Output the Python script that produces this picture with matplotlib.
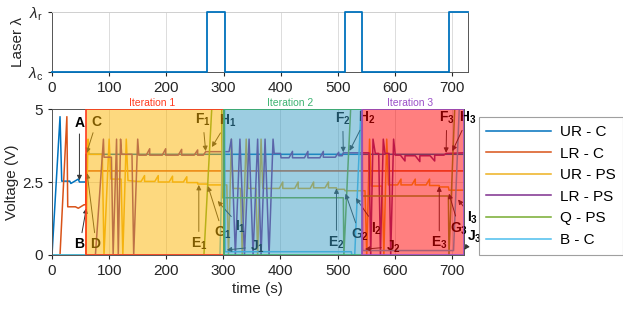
import numpy as np
import matplotlib
matplotlib.use("Agg")
import matplotlib.pyplot as plt
from matplotlib.patches import Rectangle

plt.rcParams['font.family'] = ['Liberation Sans', 'DejaVu Sans']
plt.rcParams['mathtext.fontset'] = 'custom'
plt.rcParams['mathtext.rm'] = 'Liberation Sans'
plt.rcParams['mathtext.it'] = 'Liberation Sans:italic'
plt.rcParams['mathtext.bf'] = 'Liberation Sans:bold'

# laser wavelength state (0 = lambda_c, 1 = lambda_r)
laser_t = [0, 271, 271, 302, 302, 512, 512, 543, 543, 694, 694, 728]
laser_v = [0, 0, 1, 1, 0, 0, 1, 1, 0, 0, 1, 1]

# voltage traces
urc_t = [0, 14, 17, 31, 33, 46, 48, 59, 59.5, 721]
urc_v = [0, 4.74, 2.53, 2.53, 2.45, 2.6, 2.5, 2.5, 3.45, 3.45]

lrc_t = [0, 14, 26, 27.5, 41, 46, 56, 59, 59.5, 721]
lrc_v = [0, 0, 4.74, 1.65, 1.65, 1.6, 1.72, 1.72, 2.88, 2.88]

urps_t = [0, 59, 63, 65, 88, 91, 100, 103, 121, 124, 130, 133, 150,
          156, 162, 162, 180, 186, 186, 205, 211, 211, 230, 236, 236, 255, 255, 272, 273,
          306, 309, 314, 317, 330, 333, 340, 343, 357, 360, 366, 369, 398, 404, 404,
          425, 431, 431, 452, 458, 458, 478, 484, 484, 498, 498, 512, 513,
          548, 551, 556, 559, 578, 581, 586, 589, 605, 611, 611, 630, 636, 636,
          655, 661, 661, 678, 678, 694, 695, 721]
urps_v = [0, 0, 3.97, 3.45, 3.45, 0, 3.97, 2.6, 2.6, 0, 3.97, 2.55, 2.52,
          2.52, 2.72, 2.52, 2.52, 2.72, 2.5, 2.5, 2.7, 2.5, 2.5, 2.68, 2.48, 2.48, 2.43, 2.43, 2.4,
          2.4, 0, 3.97, 2.28, 2.28, 0, 3.97, 2.28, 2.28, 0, 3.97, 2.28, 2.28, 2.5, 2.28,
          2.28, 2.5, 2.28, 2.28, 2.5, 2.3, 2.3, 2.5, 2.3, 2.3, 2.25, 2.25, 2.2,
          2.2, 0, 3.97, 2.36, 2.36, 0, 3.97, 2.4, 2.4, 2.6, 2.4, 2.4, 2.6, 2.4,
          2.4, 2.6, 2.38, 2.38, 2.33, 2.33, 2.22, 2.22]

lrps_t = [0, 59, 76, 90, 91, 104, 107, 113, 116, 120, 122, 140, 143, 150, 152,
          165, 171, 171, 193, 199, 199, 221, 227, 227, 249, 255, 255, 265, 269,
          310, 314, 321, 329, 337, 345, 352, 360, 366, 373, 380, 387, 389, 400, 401,
          415, 421, 421, 442, 448, 448, 469, 475, 475, 496, 502, 502, 508, 510,
          555, 558, 562, 566, 572, 575, 580, 583, 590, 593, 598, 601,
          610, 618, 618, 636, 644, 644, 662, 670, 670, 686, 690, 721]
lrps_v = [0, 0, 0, 3.97, 3.35, 3.35, 0, 3.97, 0, 3.97, 3.45, 3.45, 0, 3.97, 3.42,
          3.42, 3.64, 3.42, 3.42, 3.64, 3.42, 3.42, 3.62, 3.42, 3.42, 3.6, 3.42, 3.42, 3.54,
          3.54, 3.97, 0, 3.97, 0, 3.97, 0, 3.97, 0, 3.97, 0, 3.97, 3.48, 3.48, 3.33,
          3.33, 3.55, 3.33, 3.33, 3.55, 3.33, 3.33, 3.55, 3.35, 3.35, 3.52, 3.4, 3.4, 3.5,
          3.5, 0, 3.97, 3.48, 3.48, 0, 3.97, 3.48, 3.48, 0, 3.97, 3.42,
          3.42, 3.22, 3.4, 3.4, 3.2, 3.4, 3.4, 3.22, 3.42, 3.42, 3.48, 3.5]

qps_t = [0, 266, 281, 297, 298, 510, 511, 524, 541, 542, 694, 695, 706, 721]
qps_v = [0, 0, 5.5, 5.5, 1.96, 1.96, 0, 5.5, 5.5, 2.02, 2.02, 0, 5.5, 5.5]

bc_t = [0, 294, 301, 302, 303, 524, 525, 530, 542, 543, 544, 703, 714, 721]
bc_v = [0, 0, 5.5, 5.5, 0.11, 0.11, 0, 0, 5.5, 5.5, 0.15, 0.15, 5.5, 5.5]

series = [("UR - C", urc_t, urc_v, "#0072BD"),
          ("LR - C", lrc_t, lrc_v, "#D95319"),
          ("UR - PS", urps_t, urps_v, "#EDB120"),
          ("LR - PS", lrps_t, lrps_v, "#7E2F8E"),
          ("Q - PS", qps_t, qps_v, "#77AC30"),
          ("B - C", bc_t, bc_v, "#4DBEEE")]

# iterations: start, end, fill, edge
iter_names = ["Iteration 1", "Iteration 2", "Iteration 3"]
iter_start = [59, 301, 543]
iter_end = [301, 543, 721]
iter_fill = ["#FDB500", "#3A9CC4", "#FF0000"]
iter_edge = ["#FF3B1F", "#3CB371", "#9B4FC8"]

# labels: text, text position, arrow target
labels = [("A", (48, 4.53), (48, 2.56)),
          ("B", (49, 0.38), (60, 1.6)),
          ("C", (78, 4.57), (60.5, 3.49)),
          ("D", (77, 0.38), (61.5, 2.8)),
          ("E_1", (257, 0.38), (257, 2.4)),
          ("F_1", (264, 4.62), (269, 3.56)),
          ("G_1", (299, 0.75), (273, 2.36)),
          ("H_1", (308, 4.6), (280, 3.7)),
          ("I_1", (330, 0.95), (290, 1.85)),
          ("J_1", (359, 0.28), (306, 0.17)),
          ("E_2", (498, 0.42), (498, 2.28)),
          ("F_2", (509, 4.66), (510, 3.52)),
          ("G_2", (539, 0.68), (514, 2.1)),
          ("H_2", (550, 4.69), (521, 3.57)),
          ("I_2", (569, 0.91), (532, 1.95)),
          ("J_2", (597, 0.28), (548, 0.2)),
          ("E_3", (678, 0.4), (678, 2.35)),
          ("F_3", (691, 4.69), (690, 3.5)),
          ("G_3", (713, 0.91), (695, 2.1)),
          ("H_3", (728, 4.69), (701, 3.56)),
          ("I_3", (736, 1.26), (711, 1.9)),
          ("J_3", (739, 0.63), (722, 0.18))]

fig = plt.figure(figsize=(6.23, 3.09), dpi=100)

# laser panel
ax1 = fig.add_axes([0.0835, 0.767, 0.668, 0.194])
ax1.plot(laser_t, laser_v, color="#0072BD", lw=1.3, clip_on=False, zorder=5)
ax1.set_xlim(0, 728)
ax1.set_ylim(0, 1)
ax1.set_xticks(range(0, 701, 100))
ax1.set_yticks([0, 1])
ax1.set_yticklabels([r"$\lambda_\mathrm{c}$", r"$\lambda_\mathrm{r}$"], fontsize=12)
ax1.tick_params(labelsize=11, colors="#262626", length=3)
ax1.set_ylabel("Laser λ", fontsize=11, color="#262626", labelpad=2)
ax1.grid(True, axis="x", color="#dcdcdc", lw=0.7)
for s in ax1.spines.values():
    s.set_color("#555555")
    s.set_linewidth(0.7)
ax1.spines["top"].set_color("#cfcfcf")

# voltage panel
ax = fig.add_axes([0.0835, 0.175, 0.661, 0.472])
for name, t, v, c in series:
    ax.plot(t, v, color=c, lw=1.1, label=name, zorder=2)

for txt, tpos, target in labels:
    ax.annotate(r"$\mathbf{" + txt + "}$", xy=target, xytext=tpos,
                ha="center", va="center", fontsize=10, color="black",
                arrowprops=dict(arrowstyle="-|>", color="#333333", lw=0.7,
                                mutation_scale=7, shrinkA=1, shrinkB=0),
                annotation_clip=False, zorder=3)

for name, s0, s1, fc, ec in zip(iter_names, iter_start, iter_end, iter_fill, iter_edge):
    rgba = matplotlib.colors.to_rgba(fc, 0.5)
    ax.add_patch(Rectangle((s0, 0), s1 - s0, 5, facecolor=rgba,
                           edgecolor=ec, lw=1.2, zorder=4))
    ax.text((s0 + s1) / 2 - 5, 5.05, name, color=ec, fontsize=7.5,
            ha="center", va="bottom", zorder=5)

ax.set_xlim(0, 721)
ax.set_ylim(0, 5)
ax.set_xticks(range(0, 701, 100))
ax.set_yticks([0, 2.5, 5])
ax.set_yticklabels(["0", "2.5", "5"])
ax.tick_params(labelsize=11, colors="#262626", length=3)
ax.set_xlabel("time (s)", fontsize=11, color="#262626", labelpad=3)
ax.set_ylabel("Voltage (V)", fontsize=11, color="#262626", labelpad=2)
ax.grid(True, color="#dcdcdc", lw=0.7, zorder=0)
ax.set_axisbelow(True)
for s in ax.spines.values():
    s.set_color("#555555")
    s.set_linewidth(0.7)

handles = ax.get_lines()[:6]
leg = fig.legend(handles, [s[0] for s in series], loc="center",
                 bbox_to_anchor=(551 / 623, 1 - 186 / 309), fontsize=11,
                 handlelength=4.2, frameon=True, fancybox=False,
                 edgecolor="#888888", borderpad=0.5, labelspacing=0.5,
                 handletextpad=0.6)
leg.get_frame().set_linewidth(0.8)

fig.savefig("out.png", dpi=100)
